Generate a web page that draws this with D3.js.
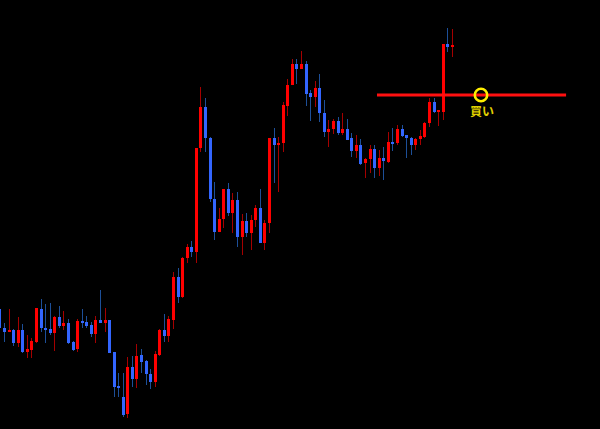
<!DOCTYPE html>
<html>
<head>
<meta charset="utf-8">
<script src="https://cdn.jsdelivr.net/npm/d3@7"></script>
<style>
html,body{margin:0;padding:0;background:#000;}
svg{display:block;}
</style>
</head>
<body>
<svg id="chart" width="600" height="429"></svg>
<script>
// Candle data (price units)
const bars = d3.range(1, 101).map(String);
const open  = [121,102,98,100,87,100,78,80,88,121,102,101,97,113,104,107,88,81,109,108,105,96,110,107,110,78,44,33,16,63,51,75,69,56,48,75,100,94,110,153,133,172,183,178,282,323,292,231,198,211,241,217,230,193,209,197,210,222,187,207,292,285,287,324,345,366,361,366,337,333,342,317,298,301,309,297,301,292,279,285,267,271,281,262,272,268,288,287,301,295,292,285,291,293,307,328,318,318,386,383];
const close = [102,98,100,87,100,78,81,89,122,102,100,97,113,104,107,87,80,109,107,104,96,110,107,110,77,43,42,15,63,51,74,68,56,48,76,100,94,111,153,133,172,183,178,282,323,292,231,198,211,241,217,230,193,209,197,210,222,187,207,292,285,287,325,345,366,361,366,336,333,342,317,298,301,309,297,301,290,279,285,266,271,281,262,272,269,288,286,301,294,292,285,291,294,307,328,318,320,386,383,385];
const high  = [121,107,121,101,113,106,95,92,122,131,126,127,114,124,119,111,89,111,121,114,108,114,140,122,110,78,57,57,73,74,86,81,70,61,79,101,116,114,158,162,173,186,189,282,343,332,293,248,222,241,247,237,238,216,217,215,225,241,210,292,302,293,328,351,371,371,379,369,340,349,356,330,310,311,313,317,311,297,295,291,272,285,285,280,283,298,302,305,305,295,293,292,300,308,332,332,320,386,402,401];
const low   = [102,88,98,84,83,77,72,72,87,98,87,95,79,102,100,86,79,78,102,102,93,87,107,98,77,33,33,13,12,43,42,57,45,41,43,74,88,88,101,127,132,167,173,167,278,278,228,190,198,202,214,197,183,175,193,180,203,187,180,197,247,238,278,314,345,346,361,324,309,323,308,293,283,296,295,295,290,273,272,265,252,257,252,254,250,267,279,285,293,272,275,280,285,292,303,317,304,310,378,373];

// Annotation data
const entryLevel = [{label: "買い", price: 335, fromBar: "84", toBar: "100", markBar: "100"}];

const svg = d3.select("#chart");
const W = 600, H = 429;
svg.append("rect").attr("width", W).attr("height", H).attr("fill", "#000");

const x = d3.scalePoint().domain(bars).range([-0.1, 452.3]);
const step = x.step();
const y = d3.scaleLinear().domain([0, 430]).range([430, 0]);

const data = bars.map((b, i) => ({b, o: open[i], c: close[i], h: high[i], l: low[i]}));

const COL = {
  upBody: "#ff0000", upWick: "#a50000",
  dnBody: "#3366ff", dnWick: "#1d4f98"
};

const g = svg.append("g");
const candle = g.selectAll("g.c").data(data).join("g").attr("class", "c");

candle.each(function(d) {
  const sel = d3.select(this);
  const up = d.c >= d.o;
  const left = Math.round(x(d.b) - 1.5);
  const wx = left + 1.5;
  sel.append("line")
    .attr("x1", wx).attr("x2", wx)
    .attr("y1", Math.round(y(d.h))).attr("y2", Math.round(y(d.l)))
    .attr("stroke", up ? COL.upWick : COL.dnWick)
    .attr("stroke-width", 1);
  const top = Math.round(y(Math.max(d.o, d.c)));
  const bot = Math.round(y(Math.min(d.o, d.c)));
  sel.append("rect")
    .attr("x", left).attr("width", 3)
    .attr("y", top).attr("height", Math.max(1.5, bot - top))
    .attr("fill", up ? COL.upBody : COL.dnBody);
});

// Horizontal entry line + marker
entryLevel.forEach(e => {
  const ly = y(e.price);
  const x1 = x(e.fromBar) - 2.2;
  const x2 = x(e.toBar) + step * 24.9;
  svg.append("line")
    .attr("x1", x1).attr("x2", x2)
    .attr("y1", ly).attr("y2", ly)
    .attr("stroke", "#ff1010").attr("stroke-width", 3);
  const cx = x(e.markBar) + step * 6.28;
  svg.append("circle")
    .attr("cx", cx).attr("cy", ly).attr("r", 6.2)
    .attr("fill", "none").attr("stroke", "#ffee00").attr("stroke-width", 2.6);
  svg.append("text")
    .attr("x", cx + 1).attr("y", ly + 21)
    .attr("text-anchor", "middle")
    .attr("font-family", "'Noto Sans CJK JP', sans-serif")
    .attr("font-weight", "bold")
    .attr("font-size", 12)
    .attr("fill", "#e0d000")
    .text(e.label);
});
</script>
</body>
</html>
